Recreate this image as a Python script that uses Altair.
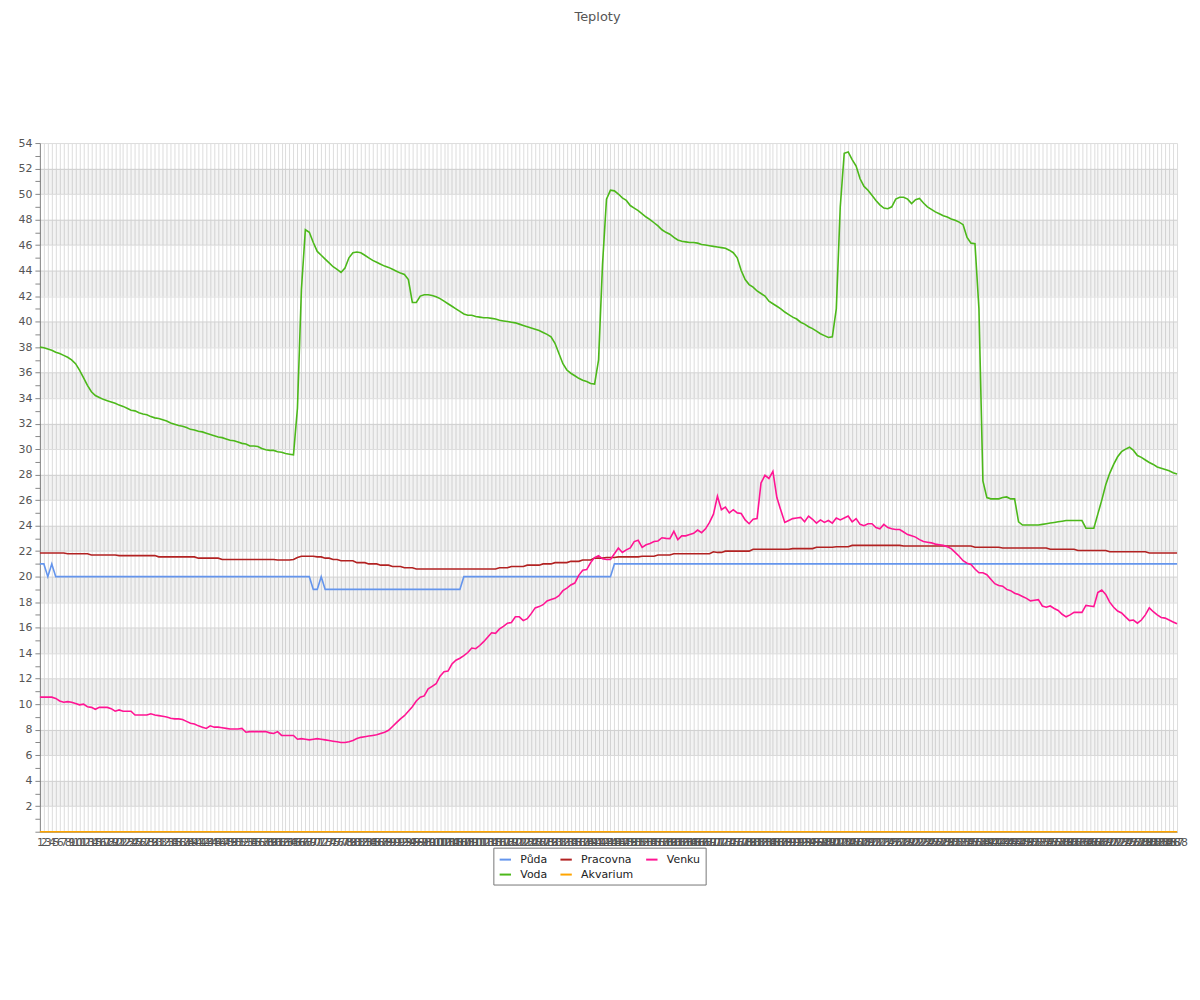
import altair as alt
import pandas as pd

# ---------------- data ----------------
series_names = ["Půda", "Pracovna", "Venku", "Voda", "Akvarium"]
series_colors = ["#6495ED", "#B22222", "#FF1493", "#4CB81A", "#FFA500"]

x_labels = list(range(1, 289))

puda = [
    21, 21, 20, 21, 20, 20, 20, 20, 20, 20,
    20, 20, 20, 20, 20, 20, 20, 20, 20, 20,
    20, 20, 20, 20, 20, 20, 20, 20, 20, 20,
    20, 20, 20, 20, 20, 20, 20, 20, 20, 20,
    20, 20, 20, 20, 20, 20, 20, 20, 20, 20,
    20, 20, 20, 20, 20, 20, 20, 20, 20, 20,
    20, 20, 20, 20, 20, 20, 20, 20, 20, 19,
    19, 20, 19, 19, 19, 19, 19, 19, 19, 19,
    19, 19, 19, 19, 19, 19, 19, 19, 19, 19,
    19, 19, 19, 19, 19, 19, 19, 19, 19, 19,
    19, 19, 19, 19, 19, 19, 19, 20, 20, 20,
    20, 20, 20, 20, 20, 20, 20, 20, 20, 20,
    20, 20, 20, 20, 20, 20, 20, 20, 20, 20,
    20, 20, 20, 20, 20, 20, 20, 20, 20, 20,
    20, 20, 20, 20, 20, 21, 21, 21, 21, 21,
    21, 21, 21, 21, 21, 21, 21, 21, 21, 21,
    21, 21, 21, 21, 21, 21, 21, 21, 21, 21,
    21, 21, 21, 21, 21, 21, 21, 21, 21, 21,
    21, 21, 21, 21, 21, 21, 21, 21, 21, 21,
    21, 21, 21, 21, 21, 21, 21, 21, 21, 21,
    21, 21, 21, 21, 21, 21, 21, 21, 21, 21,
    21, 21, 21, 21, 21, 21, 21, 21, 21, 21,
    21, 21, 21, 21, 21, 21, 21, 21, 21, 21,
    21, 21, 21, 21, 21, 21, 21, 21, 21, 21,
    21, 21, 21, 21, 21, 21, 21, 21, 21, 21,
    21, 21, 21, 21, 21, 21, 21, 21, 21, 21,
    21, 21, 21, 21, 21, 21, 21, 21, 21, 21,
    21, 21, 21, 21, 21, 21, 21, 21, 21, 21,
    21, 21, 21, 21, 21, 21, 21, 21,
]

pracovna = [
    21.85, 21.85, 21.85, 21.85, 21.85, 21.85, 21.85, 21.8, 21.8, 21.8,
    21.8, 21.8, 21.8, 21.7, 21.7, 21.7, 21.7, 21.7, 21.7, 21.7,
    21.65, 21.65, 21.65, 21.65, 21.65, 21.65, 21.65, 21.65, 21.65, 21.65,
    21.55, 21.55, 21.55, 21.55, 21.55, 21.55, 21.55, 21.55, 21.55, 21.55,
    21.45, 21.45, 21.45, 21.45, 21.45, 21.45, 21.35, 21.35, 21.35, 21.35,
    21.35, 21.35, 21.35, 21.35, 21.35, 21.35, 21.35, 21.35, 21.35, 21.35,
    21.3, 21.3, 21.3, 21.3, 21.35, 21.5, 21.6, 21.6, 21.6, 21.6,
    21.55, 21.55, 21.45, 21.45, 21.35, 21.35, 21.25, 21.25, 21.25, 21.25,
    21.1, 21.1, 21.1, 21.0, 21.0, 21.0, 20.9, 20.9, 20.9, 20.8,
    20.8, 20.8, 20.7, 20.7, 20.7, 20.6, 20.6, 20.6, 20.6, 20.6,
    20.6, 20.6, 20.6, 20.6, 20.6, 20.6, 20.6, 20.6, 20.6, 20.6,
    20.6, 20.6, 20.6, 20.6, 20.6, 20.6, 20.7, 20.7, 20.7, 20.8,
    20.8, 20.8, 20.8, 20.9, 20.9, 20.9, 20.9, 21.0, 21.0, 21.0,
    21.1, 21.1, 21.1, 21.1, 21.2, 21.2, 21.2, 21.3, 21.3, 21.3,
    21.45, 21.45, 21.45, 21.5, 21.5, 21.5, 21.55, 21.55, 21.55, 21.55,
    21.55, 21.55, 21.6, 21.6, 21.6, 21.6, 21.7, 21.7, 21.7, 21.7,
    21.8, 21.8, 21.8, 21.8, 21.8, 21.8, 21.8, 21.8, 21.8, 21.8,
    21.95, 21.9, 21.9, 22.0, 22.0, 22.0, 22.0, 22.0, 22.0, 22.0,
    22.15, 22.15, 22.15, 22.15, 22.15, 22.15, 22.15, 22.15, 22.15, 22.15,
    22.2, 22.2, 22.2, 22.2, 22.2, 22.2, 22.3, 22.3, 22.3, 22.3,
    22.3, 22.35, 22.35, 22.35, 22.35, 22.45, 22.45, 22.45, 22.45, 22.45,
    22.45, 22.45, 22.45, 22.45, 22.45, 22.45, 22.45, 22.45, 22.4, 22.4,
    22.4, 22.4, 22.4, 22.4, 22.4, 22.4, 22.4, 22.4, 22.4, 22.4,
    22.4, 22.4, 22.4, 22.4, 22.4, 22.4, 22.3, 22.3, 22.3, 22.3,
    22.3, 22.3, 22.3, 22.25, 22.25, 22.25, 22.25, 22.25, 22.25, 22.25,
    22.25, 22.25, 22.25, 22.25, 22.25, 22.15, 22.15, 22.15, 22.15, 22.15,
    22.15, 22.15, 22.05, 22.05, 22.05, 22.05, 22.05, 22.05, 22.05, 22.05,
    21.95, 21.95, 21.95, 21.95, 21.95, 21.95, 21.95, 21.95, 21.95, 21.95,
    21.85, 21.85, 21.85, 21.85, 21.85, 21.85, 21.85, 21.85,
]

venku = [
    10.55, 10.55, 10.55, 10.55, 10.45, 10.25, 10.15, 10.2, 10.15, 10.05,
    9.95, 10.0, 9.8, 9.75, 9.6, 9.75, 9.75, 9.75, 9.65, 9.45,
    9.55, 9.45, 9.45, 9.45, 9.15, 9.15, 9.15, 9.15, 9.25, 9.15,
    9.1, 9.05, 9.0, 8.9, 8.85, 8.85, 8.8, 8.65, 8.5, 8.45,
    8.3, 8.2, 8.1, 8.3, 8.2, 8.2, 8.15, 8.1, 8.05, 8.05,
    8.05, 8.1, 7.8, 7.85, 7.85, 7.85, 7.85, 7.85, 7.75, 7.7,
    7.85, 7.55, 7.55, 7.55, 7.55, 7.25, 7.3, 7.25, 7.2, 7.25,
    7.3, 7.25, 7.2, 7.15, 7.1, 7.05, 7.0, 7.0, 7.05, 7.15,
    7.3, 7.4, 7.45, 7.5, 7.55, 7.6, 7.7, 7.8, 7.95, 8.25,
    8.55, 8.85, 9.1, 9.45, 9.8, 10.25, 10.55, 10.65, 11.2, 11.4,
    11.6, 12.2, 12.55, 12.6, 13.15, 13.45, 13.6, 13.8, 14.05, 14.4,
    14.35, 14.6, 14.9, 15.25, 15.6, 15.55, 15.9, 16.1, 16.35, 16.4,
    16.85, 16.85, 16.55, 16.7, 17.1, 17.55, 17.65, 17.8, 18.1, 18.2,
    18.3, 18.5, 18.9, 19.1, 19.35, 19.5, 20.1, 20.5, 20.55, 21.1,
    21.5, 21.65, 21.4, 21.35, 21.35, 21.8, 22.25, 21.9, 22.1, 22.25,
    22.75, 22.85, 22.3, 22.5, 22.6, 22.75, 22.8, 23.05, 23.0, 22.98,
    23.55, 22.9, 23.2, 23.2, 23.3, 23.4, 23.65, 23.45, 23.75, 24.25,
    24.9, 26.3, 25.25, 25.45, 25.0, 25.25, 25.0, 24.95, 24.45, 24.15,
    24.5, 24.55, 27.35, 27.95, 27.7, 28.25, 26.2, 25.2, 24.25, 24.4,
    24.55, 24.6, 24.65, 24.3, 24.75, 24.5, 24.2, 24.45, 24.25, 24.4,
    24.2, 24.6, 24.45, 24.6, 24.75, 24.3, 24.55, 24.1, 24.0, 24.15,
    24.15, 23.85, 23.75, 24.1, 23.85, 23.75, 23.7, 23.7, 23.5, 23.3,
    23.2, 23.1, 22.9, 22.75, 22.7, 22.65, 22.55, 22.5, 22.45, 22.35,
    22.2, 21.9, 21.6, 21.25, 21.05, 20.95, 20.6, 20.3, 20.3, 20.15,
    19.8, 19.45, 19.3, 19.25, 19.0, 18.9, 18.7, 18.6, 18.45, 18.3,
    18.1, 18.15, 18.2, 17.7, 17.6, 17.7, 17.5, 17.35, 17.05, 16.85,
    17.0, 17.2, 17.2, 17.2, 17.75, 17.7, 17.65, 18.75, 18.95, 18.6,
    18.0, 17.6, 17.3, 17.15, 16.85, 16.55, 16.6, 16.35, 16.6, 17.0,
    17.55, 17.25, 17.0, 16.8, 16.75, 16.6, 16.45, 16.3,
]

voda = [
    38.0, 37.95, 37.85, 37.75, 37.6, 37.5, 37.35, 37.2, 37.0, 36.7,
    36.2, 35.6, 35.0, 34.5, 34.2, 34.05, 33.9, 33.8, 33.7, 33.6,
    33.45, 33.35, 33.2, 33.05, 33.0, 32.85, 32.75, 32.7, 32.55, 32.45,
    32.4, 32.3, 32.2, 32.05, 31.95, 31.85, 31.8, 31.7, 31.55, 31.5,
    31.4, 31.35, 31.25, 31.15, 31.05, 30.95, 30.9, 30.8, 30.7, 30.65,
    30.55, 30.45, 30.4, 30.25, 30.25, 30.2, 30.05, 29.95, 29.9, 29.9,
    29.8, 29.75, 29.65, 29.6, 29.55, 33.2, 42.5, 47.2, 47.0, 46.2,
    45.5, 45.2, 44.9, 44.6, 44.3, 44.1, 43.85, 44.2, 45.0, 45.4,
    45.45, 45.4, 45.2, 45.0, 44.8, 44.65, 44.5, 44.35, 44.25, 44.1,
    43.95, 43.8, 43.7, 43.3, 41.5, 41.5, 42.0, 42.1, 42.1, 42.05,
    41.95, 41.8, 41.6, 41.4, 41.2, 41.0, 40.8, 40.6, 40.5, 40.5,
    40.4, 40.35, 40.3, 40.3, 40.25, 40.2, 40.1, 40.05, 40.0, 39.95,
    39.9, 39.8, 39.7, 39.6, 39.5, 39.4, 39.3, 39.15, 39.0, 38.8,
    38.3, 37.5, 36.7, 36.2, 35.95, 35.75, 35.55, 35.4, 35.3, 35.15,
    35.1, 37.0, 44.5, 49.6, 50.3, 50.25, 50.0, 49.7, 49.5, 49.1,
    48.9, 48.7, 48.45, 48.2, 48.0, 47.75, 47.5, 47.2, 47.0, 46.85,
    46.6, 46.4, 46.3, 46.25, 46.2, 46.2, 46.15, 46.05, 46.0, 45.95,
    45.9, 45.85, 45.8, 45.75, 45.6, 45.4, 45.0, 44.0, 43.3, 42.9,
    42.7, 42.4, 42.2, 42.0, 41.6, 41.4, 41.2, 41.0, 40.75, 40.55,
    40.35, 40.2, 39.95, 39.8, 39.6, 39.45, 39.25, 39.05, 38.9, 38.75,
    38.8, 41.0, 49.0, 53.2, 53.3, 52.7, 52.2, 51.2, 50.6, 50.3,
    49.9, 49.5, 49.15, 48.9, 48.85, 49.0, 49.6, 49.75, 49.75, 49.6,
    49.25, 49.55, 49.65, 49.3, 49.0, 48.8, 48.6, 48.45, 48.3, 48.2,
    48.05, 47.95, 47.8, 47.6, 46.6, 46.15, 46.1, 41.0, 27.5, 26.2,
    26.1, 26.1, 26.1, 26.2, 26.25, 26.1, 26.1, 24.3, 24.05, 24.05,
    24.05, 24.05, 24.05, 24.1, 24.15, 24.2, 24.25, 24.3, 24.35, 24.4,
    24.4, 24.4, 24.4, 24.4, 23.8, 23.8, 23.8, 24.9, 26.0, 27.2,
    28.1, 28.8, 29.4, 29.8, 30.0, 30.15, 29.9, 29.5, 29.35, 29.15,
    28.95, 28.8, 28.6, 28.5, 28.4, 28.3, 28.15, 28.05,
]

akvarium = [0] * 288  # flat line at 0 in the reference

band_lows = [2, 6, 10, 14, 18, 22, 26, 30, 34, 38, 42, 46, 50]
y_tick_values = list(range(0, 55))

# ---------------- build tables ----------------
rows = []
for name, vals in zip(series_names, [puda, pracovna, venku, voda, akvarium]):
    for i, v in zip(x_labels, vals):
        rows.append({"i": i, "s": name, "v": v})
df = pd.DataFrame(rows)
bands = pd.DataFrame({"lo": band_lows, "hi": [b + 2 for b in band_lows]})

W, H = 1141, 691
FONT = "DejaVu Sans"

y_scale = alt.Scale(domain=[0, 54], nice=False, zero=True)

y_axis = alt.Axis(
    title=None,
    values=y_tick_values,
    labelExpr="datum.value % 2 == 0 && datum.value > 0 ? datum.label : ''",
    labelOverlap=False,
    labelFlush=False,
    labelBound=False,
    tickSize=5,
    tickColor="#888888",
    domainColor="#888888",
    labelPadding=3,
    labelFontSize=11,
    labelFont=FONT,
    labelColor="#555555",
    grid=True,
    gridColor={"condition": {"test": "datum.value % 2 == 0", "value": "#dddddd"}, "value": "transparent"},
)

band_layer = alt.Chart(bands).mark_rect(color="#000000", opacity=0.05).encode(
    x=alt.value(0),
    x2=alt.value(W),
    y=alt.Y("lo:Q", scale=y_scale, axis=y_axis),
    y2="hi:Q",
)

lines = alt.Chart(df).mark_line(strokeWidth=1.6).encode(
    x=alt.X(
        "i:O",
        scale=alt.Scale(type="point", padding=0),
        axis=alt.Axis(
            title=None,
            labelAngle=0,
            labelOverlap=False,
            ticks=False,
            labelPadding=5,
            labelFontSize=11,
            labelFont=FONT,
            labelColor="#555555",
            domainColor="#888888",
            grid=True,
            gridColor="#dddddd",
        ),
    ),
    y=alt.Y("v:Q", scale=y_scale, axis=y_axis),
    color=alt.Color(
        "s:N",
        scale=alt.Scale(domain=series_names, range=series_colors),
        legend=alt.Legend(
            title=None,
            orient="none",
            direction="horizontal",
            legendX=455,
            legendY=707,
            columns=3,
            symbolType="stroke",
            symbolStrokeWidth=2,
            symbolSize=130,
            labelFontSize=11,
            labelFont=FONT,
            labelColor="#222222",
            labelOffset=8,
            columnPadding=8,
            rowPadding=3,
            padding=5,
            strokeColor="#777777",
            fillColor="#ffffff",
        ),
    ),
    order=alt.Order("i:Q"),
)

chart = (
    alt.layer(band_layer, lines)
    .properties(
        width=W,
        height=H,
        autosize=alt.AutoSizeParams(type="none"),
        padding={"left": 32, "top": 134, "right": 15, "bottom": 60},
        title=alt.TitleParams(
            "Teploty",
            fontSize=13,
            font=FONT,
            fontWeight="normal",
            color="#555555",
            anchor="middle",
            offset=113,
            dx=-11,
        ),
    )
    .configure_view(stroke=None)
)

chart.save("out.html", embed_options={"renderer": "svg", "actions": False})
